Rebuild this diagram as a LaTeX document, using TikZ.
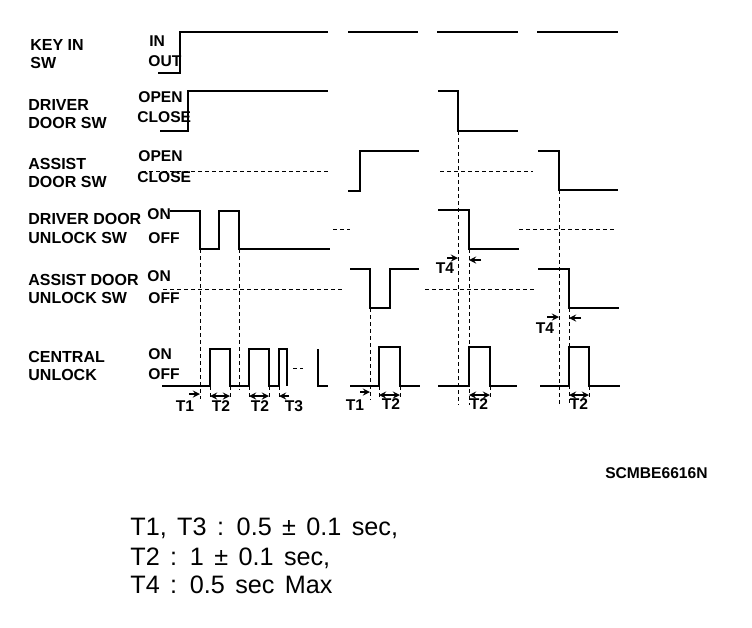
\documentclass[tikz,border=0pt]{standalone}
\usepackage{fontspec}
\setmainfont{Liberation Sans}
\usetikzlibrary{positioning,arrows}

\begin{document}
\begin{tikzpicture}[x=0.5pt, y=-0.5pt,
    signal/.style={anchor=west, align=left, inner sep=0pt, font=\fontsize{8}{9.2}\selectfont\bfseries},
    lvl/.style={anchor=west, inner sep=0pt, font=\fontsize{7.8}{9.2}\selectfont\bfseries},
    tmark/.style={inner sep=0pt, font=\fontsize{7.8}{9.2}\selectfont\bfseries},
    note/.style={anchor=base west, inner sep=0pt, font={\fontsize{12.6}{14}\selectfont\spaceskip=5.2pt\relax}},
    wave/.style={line width=1.3pt, line join=miter},
    guide/.style={line width=0.45pt, dash pattern=on 2pt off 1.5pt},
    arrow/.style={->, >=stealth, line width=0.6pt},
    span/.style={<->, >=stealth, line width=0.6pt}]

    \useasboundingbox (0,0) rectangle (752,628);

    % Signal names
    \node[signal] (keyin) at (30,54) {KEY IN\\SW};
    \node[signal] (drvsw) at (28,114) {DRIVER\\DOOR SW};
    \node[signal] (asssw) at (28,173) {ASSIST\\DOOR SW};
    \node[signal] (drvunl) at (28,228.5) {DRIVER DOOR\\UNLOCK SW};
    \node[signal] (assunl) at (28,289) {ASSIST DOOR\\UNLOCK SW};
    \node[signal] (central) at (28,366) {CENTRAL\\UNLOCK};

    % Levels
    \node[lvl] (keyhi) at (149,41) {IN};
    \node[lvl] (keylo) at (148,61) {OUT};
    \node[lvl] (drvhi) at (138,97) {OPEN};
    \node[lvl] (drvlo) at (137,117.5) {CLOSE};
    \node[lvl] (asshi) at (138,156) {OPEN};
    \node[lvl] (asslo) at (137,177.5) {CLOSE};
    \node[lvl] (dulhi) at (147,214.5) {ON};
    \node[lvl] (dullo) at (148,238) {OFF};
    \node[lvl] (aulhi) at (147,276) {ON};
    \node[lvl] (aullo) at (148,298) {OFF};
    \node[lvl] (cenhi) at (148,354) {ON};
    \node[lvl] (cenlo) at (148,374.5) {OFF};

    % Key in SW
    \draw[wave] (158,73) -- (180,73) -- (180,32) -- (328,32);
    \draw[wave] (348,32) -- (418,32);
    \draw[wave] (437,32) -- (518,32);
    \draw[wave] (537,32) -- (618,32);

    % Driver door SW
    \draw[wave] (160,131) -- (188,131) -- (188,91) -- (328,91);
    \draw[wave] (438,91) -- (458,91) -- (458,131) -- (518,131);

    % Assist door SW
    \draw[guide] (142,171) -- (330,171);
    \draw[wave] (348,191) -- (360,191) -- (360,151) -- (419,151);
    \draw[guide] (440,171) -- (533,171);
    \draw[wave] (538,151) -- (559,151) -- (559,190) -- (618,190);

    % Driver door unlock SW
    \draw[wave] (170,211) -- (200,211) -- (200,249) -- (219,249) -- (219,211) -- (239,211) -- (239,249) -- (330,249);
    \draw[guide] (333,229) -- (350,229);
    \draw[wave] (438,210) -- (469,210) -- (469,249) -- (519,249);
    \draw[guide] (519,229) -- (617,229);

    % Assist door unlock SW
    \draw[guide] (163,289) -- (343,289);
    \draw[wave] (350,269) -- (370,269) -- (370,308) -- (390,308) -- (390,269) -- (419,269);
    \draw[guide] (425,289) -- (535,289);
    \draw[wave] (538,269) -- (569,269) -- (569,308) -- (619,308);

    % Central unlock
    \draw[wave] (162,386) -- (210,386) -- (210,349) -- (230,349) -- (230,386) -- (249,386) -- (249,349) -- (269,349) -- (269,386) -- (279,386) -- (279,349) -- (287,349) -- (287,386);
    \draw[guide] (293,368) -- (303,368);
    \draw[wave] (318,349) -- (318,386) -- (328,386);
    \draw[wave] (350,386) -- (379,386) -- (379,347) -- (400,347) -- (400,386) -- (420,386);
    \draw[wave] (438,386) -- (469,386) -- (469,347) -- (490,347) -- (490,386) -- (517,386);
    \draw[wave] (540,386) -- (569,386) -- (569,347) -- (589,347) -- (589,386) -- (620,386);

    % Timing guides
    \draw[guide] (200,249) -- (200,399);
    \draw[guide] (239,249) -- (239,390);
    \draw[guide] (370,308) -- (370,400);
    \draw[guide] (458,131) -- (458,405);
    \draw[guide] (469,249) -- (469,405);
    \draw[guide] (559,190) -- (559,405);
    \draw[guide] (569,308) -- (569,405);
    \draw[guide] (210,386) -- (210,400);
    \draw[guide] (230,386) -- (230,400);
    \draw[guide] (249,386) -- (249,400);
    \draw[guide] (269,386) -- (269,400);
    \draw[guide] (279,386) -- (279,400);
    \draw[guide] (379,386) -- (379,400);
    \draw[guide] (400,386) -- (400,400);
    \draw[guide] (490,386) -- (490,400);
    \draw[guide] (589,386) -- (589,400);

    % Timing arrows
    \draw[arrow] (189,394) -- (200,394);
    \draw[span] (210,396) -- (230,396);
    \draw[span] (249,396) -- (269,396);
    \draw[arrow] (289,396) -- (279,396);
    \draw[arrow] (360,392) -- (370,392);
    \draw[span] (379,395) -- (400,395);
    \draw[span] (469,395) -- (490,395);
    \draw[span] (569,395) -- (589,395);
    \draw[arrow] (447,258) -- (458,258);
    \draw[arrow] (481,260) -- (469,260);
    \draw[arrow] (547,317) -- (559,317);
    \draw[arrow] (581,318) -- (569,318);

    % Timing labels
    \node[tmark] (t1a) at (185,406) {T1};
    \node[tmark] (t2a) at (221,406) {T2};
    \node[tmark] (t2b) at (260,406) {T2};
    \node[tmark] (t3a) at (294,406) {T3};
    \node[tmark] (t1b) at (355,405) {T1};
    \node[tmark] (t2c) at (391,404) {T2};
    \node[tmark] (t2d) at (479,404) {T2};
    \node[tmark] (t2e) at (579,404) {T2};
    \node[tmark] (t4a) at (445,268) {T4};
    \node[tmark] (t4b) at (545,328) {T4};

    % Drawing code
    \node[anchor=east, inner sep=0pt, font=\fontsize{7.8}{9}\selectfont\bfseries] (code) at (708,473) {SCMBE6616N};

    % Notes
    \node[note] (note1) at (130,535) {T1, T3 : 0.5 ± 0.1 sec,};
    \node[note] (note2) at (130,565) {T2 : 1 ± 0.1 sec,};
    \node[note] (note3) at (130,593) {T4 : 0.5 sec Max};
\end{tikzpicture}
\end{document}
